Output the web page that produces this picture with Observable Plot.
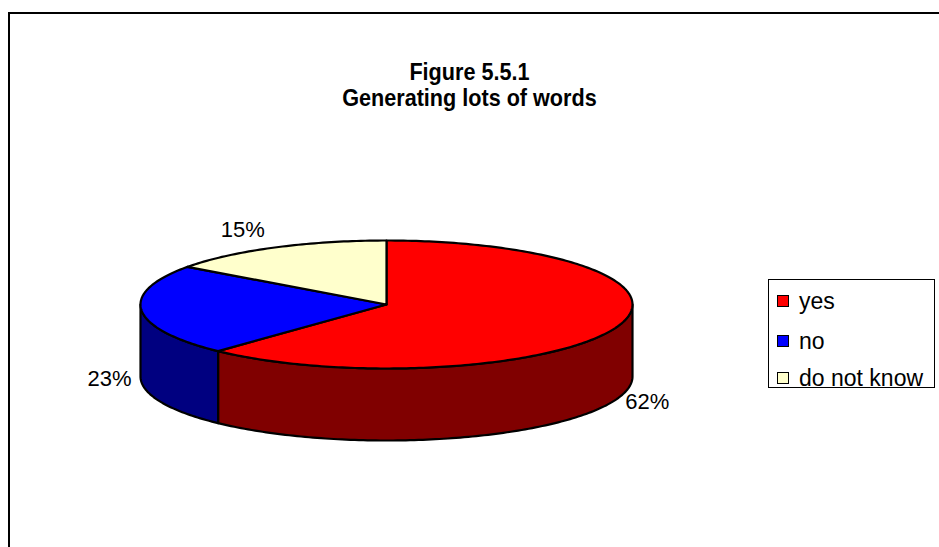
<!DOCTYPE html>
<html>
<head>
<meta charset="utf-8">
<script src="https://cdn.jsdelivr.net/npm/d3@7"></script>
<script src="https://cdn.jsdelivr.net/npm/@observablehq/plot@0.6"></script>
<style>
  html, body { margin: 0; padding: 0; background: #fff; }
  body { font-family: "Liberation Sans", Arial, sans-serif; }
  #wrap { position: relative; width: 939px; height: 547px; overflow: hidden; background: #fff; }
  #chart { position: absolute; left: 0; top: 0; }
  #frame { position: absolute; left: 8px; top: 12px; width: 1000px; height: 700px;
           border: 2px solid #000; box-sizing: border-box; pointer-events: none; }
  #title { position: absolute; left: 0; top: 59px; width: 939px; text-align: center;
           font-weight: bold; font-size: 24px; line-height: 26px; color: #000;
           transform: scaleX(0.9); transform-origin: 469px 0; }
  #legend { position: absolute; left: 768px; top: 279px; width: 167px; height: 109px;
            border: 1px solid #000; box-sizing: border-box; background: #fff; }
  .item { position: absolute; left: 8px; height: 26px; display: flex; align-items: center;
          font-size: 23px; color: #000; }
  .sw { width: 10px; height: 10px; border: 1px solid #000; margin-right: 10px; }
</style>
</head>
<body>
<div id="wrap">
  <div id="chart"></div>
  <div id="title"></div>
  <div id="legend"></div>
  <div id="frame"></div>
</div>
<script>
// ---- data ----
const titleLines = ["Figure 5.5.1", "Generating lots of words"];
const categories = ["yes", "no", "do not know"];
const values = [62, 23, 15];
const valueLabels = ["62%", "23%", "15%"];

// ---- styles ----
const topColors = ["#FF0000", "#0000FF", "#FFFFCC"];
const sideColors = ["#800000", "#000080", "#808066"];

// ---- layout of the 3D pie (pixels) ----
const W = 939, H = 547;
const cx = 386, cy = 304, rx = 246, ry = 64, depth = 72;

function pt(deg, dz = 0) {
  const t = deg * Math.PI / 180;
  return { x: cx + rx * Math.sin(t), y: cy - ry * Math.cos(t) + dz };
}
function arc(a, b, dz) {
  const n = Math.max(2, Math.ceil(Math.abs(b - a)));
  const out = [];
  for (let k = 0; k <= n; k++) out.push(pt(a + (b - a) * k / n, dz));
  return out;
}

const total = d3.sum(values);
const tops = [], sides = [], labels = [];
let start = 0;
values.forEach((v, i) => {
  const end = start + v / total * 360;
  // top face
  const poly = [{ x: cx, y: cy }, ...arc(start, end, 0)];
  poly.forEach(p => tops.push({ ...p, key: categories[i], fill: topColors[i] }));
  // visible outer wall (front half: 90..270 degrees clockwise from top)
  const lo = Math.max(start, 90), hi = Math.min(end, 270);
  if (lo < hi) {
    const wall = [...arc(lo, hi, 0), ...arc(hi, lo, depth)];
    wall.forEach(p => sides.push({ ...p, key: categories[i], fill: sideColors[i] }));
  }
  // label
  const mid = (start + end) / 2, t = mid * Math.PI / 180;
  const s = Math.sin(t), c = Math.cos(t);
  labels.push({
    x: cx + rx * s + (s >= 0 ? 10 : -10),
    y: cy - 1.3 * ry * c + (c < 0 ? depth - 5 : 0),
    anchor: s >= 0 ? "start" : "end",
    text: valueLabels[i]
  });
  start = end;
});

const chart = Plot.plot({
  width: W, height: H, margin: 0,
  x: { domain: [0, W], range: [0, W], axis: null },
  y: { domain: [0, H], range: [0, H], axis: null },
  color: { type: "identity" },
  style: { background: "transparent", fontFamily: "Liberation Sans, Arial, sans-serif" },
  marks: [
    Plot.line(sides, { x: "x", y: "y", z: "key", fill: "fill", stroke: "#000",
      strokeWidth: 2.2, strokeLinejoin: "round", curve: "linear-closed" }),
    Plot.line(tops, { x: "x", y: "y", z: "key", fill: "fill", stroke: "#000",
      strokeWidth: 2.2, strokeLinejoin: "round", curve: "linear-closed" }),
    Plot.text(labels.filter(d => d.anchor === "start"), { x: "x", y: "y", text: "text",
      textAnchor: "start", fontSize: 22, fill: "#000" }),
    Plot.text(labels.filter(d => d.anchor === "end"), { x: "x", y: "y", text: "text",
      textAnchor: "end", fontSize: 22, fill: "#000" })
  ]
});
document.getElementById("chart").appendChild(chart);

// title
document.getElementById("title").innerHTML = titleLines.map(t => `<div>${t}</div>`).join("");

// legend
const legend = document.getElementById("legend");
const rowTops = [8, 48, 85];
categories.forEach((c, i) => {
  const it = document.createElement("div");
  it.className = "item";
  it.style.top = rowTops[i] + "px";
  it.innerHTML = `<span class="sw" style="background:${topColors[i]}"></span><span>${c}</span>`;
  legend.appendChild(it);
});
</script>
</body>
</html>
